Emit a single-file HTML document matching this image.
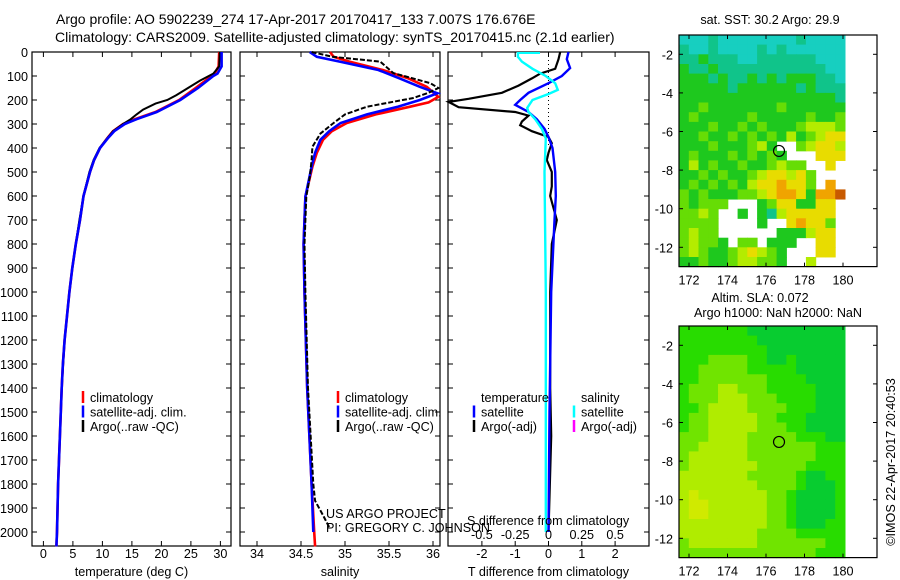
<!DOCTYPE html>
<html><head><meta charset="utf-8">
<style>
html,body{margin:0;padding:0;background:#fff;}
svg{display:block;font-family:"Liberation Sans",sans-serif;}
text{font-size:12.6px;fill:#000;}
</style></head>
<body>
<svg id="chart" width="900" height="580" viewBox="0 0 900 580" xmlns="http://www.w3.org/2000/svg">
<text x="56" y="24" style="font-size:14px">Argo profile: AO 5902239_274 17-Apr-2017 20170417_133 7.007S 176.676E</text>
<text x="55" y="42" style="font-size:14px">Climatology: CARS2009. Satellite-adjusted climatology: synTS_20170415.nc (2.1d earlier)</text>
<g id="plots"></g>
<text x="770" y="24" text-anchor="middle">sat. SST: 30.2 Argo: 29.9</text>
<text x="760" y="302" text-anchor="middle">Altim. SLA: 0.072</text>
<text x="778" y="317" text-anchor="middle">Argo h1000: NaN h2000: NaN</text>
<text transform="translate(895,462) rotate(-90)" text-anchor="middle">©IMOS 22-Apr-2017 20:40:53</text>
<text x="326" y="518">US ARGO PROJECT</text>
<text x="326" y="532">PI: GREGORY C. JOHNSON</text>
</svg>
<script>
// ---------- data ----------
const depthTicks=[0,100,200,300,400,500,600,700,800,900,1000,1100,1200,1300,1400,1500,1600,1700,1800,1900,2000];
const tempTicks=[0,5,10,15,20,25,30];
const salTicks=[34,34.5,35,35.5,36];
const salTickLabels=["34","34.5","35","35.5","36"];
const tdiffTicks=[-2,-1,0,1,2];
const sdiffTicks=[-0.5,-0.25,0,0.25,0.5];
const sdiffTickLabels=["-0.5","-0.25","0","0.25","0.5"];

const tClimDepth=[0,60,90,100,150,200,250,280,300,330,360,400,450,500,600,700,800,900,1000,1100,1200,1300,1400,1600,1800,2000,2060];
const tClim=[29.8,29.7,29.0,28.5,25.8,23.0,19.0,15.5,13.5,11.8,10.8,9.6,8.6,7.9,6.8,6.2,5.5,4.9,4.4,4.0,3.6,3.3,3.1,2.8,2.5,2.3,2.2];
const tSatDepth=[0,60,90,100,150,200,250,280,300,330,360,400,450,500,600,700,800,900,1000,1100,1200,1300,1400,1600,1800,2000,2060];
const tSat=[30.2,30.2,29.5,28.8,26.2,23.2,19.2,15.8,13.8,12.0,10.9,9.6,8.6,7.9,6.8,6.2,5.5,4.9,4.4,4.0,3.6,3.3,3.1,2.8,2.5,2.3,2.2];
const tArgoDepth=[0,60,90,120,150,180,200,215,240,260,280,300,330,360,400,450,500,600,700,800,900,1000,1200,1400,1600,1800,2000];
const tArgo=[29.9,29.8,28.8,26.5,24.5,22.5,21.0,19.0,16.9,15.8,14.8,13.5,11.8,10.8,9.5,8.5,7.8,6.8,6.1,5.5,4.9,4.4,3.6,3.1,2.8,2.5,2.3];

const sClimDepth=[0,20,40,75,110,145,187,210,228,260,296,330,366,420,478,603,800,1000,1400,1800,2000,2060];
const sClim=[34.83,34.87,35.05,35.43,35.72,35.93,36.06,35.95,35.74,35.35,35.02,34.85,34.75,34.68,34.63,34.55,34.53,34.54,34.57,34.62,34.65,34.66];
const sSatDepth=[0,20,40,75,110,145,172,200,228,260,296,330,366,420,478,603,800,1000,1400,1800,2000];
const sSat=[34.6,34.68,34.94,35.38,35.62,35.85,36.05,35.85,35.6,35.25,34.95,34.82,34.72,34.66,34.62,34.55,34.53,34.54,34.57,34.62,34.64];
const sArgoDepth=[0,20,40,88,130,150,170,192,228,260,296,340,395,450,520,603,800,1000,1400,1800,1870,1930,1980];
const sArgo=[34.62,34.86,35.4,35.55,35.97,36.06,35.95,35.77,35.25,35.0,34.87,34.72,34.63,34.62,34.6,34.56,34.54,34.55,34.58,34.64,34.66,34.75,34.82];

const dTSatDepth=[0,30,67,100,130,170,200,220,250,280,320,354,400,500,600,700,1000,1500,2000];
const dTSat=[0.6,0.55,0.65,0.4,0.0,-0.6,-0.85,-1.0,-0.6,-0.35,-0.12,0.0,0.12,0.2,0.22,0.18,0.08,0.03,0.0];
const dTArgoDepth=[0,30,70,90,110,140,170,195,208,230,250,265,290,305,330,354,380,420,450,500,560,600,700,800,1000,1400,1600,2000];
const dTArgo=[0.35,0.3,0.2,-0.25,-0.5,-0.9,-1.4,-2.4,-3.0,-2.7,-1.0,-0.6,-0.8,-0.85,-0.5,0.0,0.1,0.0,-0.05,0.1,0.1,0.05,0.25,0.1,0.05,0.05,0.08,0.0];
const dSSatDepth=[0,20,40,70,100,130,158,175,200,233,250,280,320,360,500,1000,2000];
const dSSat=[-0.23,-0.23,-0.2,-0.12,-0.02,0.05,0.07,0.0,-0.12,-0.16,-0.15,-0.1,-0.05,-0.02,-0.03,-0.02,-0.02];

// map grids: rows lat -1..-13 by 0.5, cols lon 171.48..180.1
const sstRows=[
"ccctcccccccctcccc","tcctcccctctcccccc","ttgtttccttttttccc","gttgtttttttttttcc",
"gggtgttgtgtgggttc","gggggtggggggtgttt","ggggggggggggggggt","gglggggggglgggggg",
"glggggglggggglggl","ggglgglglggglyyyl","gglgglglglgyglyYY","ggglggglyg..lyYYy",
"glggglglglg...YYY","gyglgglgglyll..Y.","gglglgglyYYyYl...","glglglgyYYoYYl.o.",
"lglgggllyYooYgoor","lglll...glYYggYY.","llyl..g.gtyYYYYY.","llll....g..YoYYl.",
"lyll......gggyYY.","lyllg.ll.ggg..YY.","lylgglyYylg...YY.","gglgglyyllg..y..."];
const slaRows=[
"gggggggGGGGGGGGGG","ggggggggGGGGGGGGG","gggggggggGGGGGGGG","gggllllggGGgGGGGG",
"gglllllgggggGGGGG","gglllllllggggGGGG","glllyylllgggggGGG","glllyyylllggggGGG",
"gglyyyyllllgggGGG","gllyyyyyllgggGGGG","gllyyyyylllggGGGG","lllyyyylllllgggGG",
"llyyyyylllllllggg","lyyyyyylllllllggg","lyyyyyyylllllgggg","yyyyyyylllllgGGgg",
"yyyyyyyyllllgGGGg","yYyyyyyyyllgGGGGg","yYYyyyyyyllgGGGGg","yYYyyyyyyllgGGGGg",
"yyyyyyyyyllgGGGgg","yyyyyyyyllllggggg","lyyyyyyylllllllgg","llllllllllllllggg"];
const mapLonTicks=[172,174,176,178,180];
const mapLatTicks=[-2,-4,-6,-8,-10,-12];
const argoLon=176.676, argoLat=-7.007;

// ---------- drawing ----------
const NS="http://www.w3.org/2000/svg";
const root=document.getElementById('plots');
function mk(tag,attrs,parent){const e=document.createElementNS(NS,tag);for(const k in attrs)e.setAttribute(k,attrs[k]);(parent||root).appendChild(e);return e;}
const Y0=52, PXD=0.24, YB=546;
const yD=d=>Y0+d*PXD;
const panels=[
 {name:'temperature',x0:32,x1:231,xs:v=>43.4+v*5.9},
 {name:'salinity',x0:240,x1:440,xs:v=>257+(v-34)*88},
 {name:'difference',x0:448,x1:649,xs:v=>548.5+v*33.3}
];
const sx3=v=>548.5+v*133.2;

function line(xs,ds,vs,color,name,w,dash){
  let p='';
  for(let i=0;i<ds.length;i++)p+=(i?'L':'M')+xs(vs[i]).toFixed(1)+','+yD(ds[i]).toFixed(1);
  const e=mk('path',{d:p,fill:'none',stroke:color,'stroke-width':w||2.2});
  if(dash)e.setAttribute('stroke-dasharray',dash);
  
  
  return e;
}
function frame(p,xticks,xlabels,xlabel,drawLeft){
  const g=mk('g',{});
  
  
  mk('rect',{x:p.x0,y:Y0,width:p.x1-p.x0,height:YB-Y0,fill:'none',stroke:'#000','stroke-width':1.2},g);
  xticks.forEach((t,i)=>{
    const x=p.xs(t);
    mk('line',{x1:x,x2:x,y1:Y0,y2:Y0+5,stroke:'#000'},g);
    mk('line',{x1:x,x2:x,y1:YB,y2:YB-5,stroke:'#000'},g);
    const tx=mk('text',{x:x,y:558,'text-anchor':'middle'},g);tx.textContent=xlabels[i];
    
    
  });
  depthTicks.forEach(d=>{
    mk('line',{x1:p.x0,x2:p.x0+5,y1:yD(d),y2:yD(d),stroke:'#000'},g);
    mk('line',{x1:p.x1,x2:p.x1-5,y1:yD(d),y2:yD(d),stroke:'#000'},g);
    if(drawLeft){const t=mk('text',{x:28,y:yD(d)+5,'text-anchor':'end'},g);t.textContent=d;
      
      }
  });
  const xl=mk('text',{x:(p.x0+p.x1)/2,y:576,'text-anchor':'middle'},g);xl.textContent=xlabel;
  
  
}
frame(panels[0],tempTicks,tempTicks.map(String),'temperature (deg C)',true);
frame(panels[1],salTicks,salTickLabels,'salinity',false);
frame(panels[2],tdiffTicks,tdiffTicks.map(String),'T difference from climatology',false);

// temperature
line(panels[0].xs,tClimDepth,tClim,'#f00','temp-climatology-line',2.6);
line(panels[0].xs,tArgoDepth,tArgo,'#000','temp-argo-line',2);
line(panels[0].xs,tSatDepth,tSat,'#00f','temp-satellite-line',2.6);
// salinity
line(panels[1].xs,sClimDepth,sClim,'#f00','sal-climatology-line',2.6);
line(panels[1].xs,sSatDepth,sSat,'#00f','sal-satellite-line',2.6);
line(panels[1].xs,sArgoDepth,sArgo,'#000','sal-argo-line',2,'5,2');
// differences
const zl=mk('line',{x1:548.5,x2:548.5,y1:Y0,y2:yD(400),stroke:'#000','stroke-dasharray':'1,3'});


line(panels[2].xs,dTArgoDepth,dTArgo,'#000','tdiff-argo-line',2.2);
line(panels[2].xs,dTSatDepth,dTSat,'#00f','tdiff-satellite-line',2.4);
line(sx3,dSSatDepth,dSSat,'#0ff','sdiff-satellite-line',2.4);
mk('line',{x1:518,x2:540,y1:Y0+1,y2:Y0+1,stroke:'#0ff','stroke-width':2});
const sdt=mk('text',{x:467,y:525});sdt.textContent='S difference from climatology';


sdiffTicks.forEach((v,i)=>{const t=mk('text',{x:sx3(v),y:539,'text-anchor':'middle'});t.textContent=sdiffTickLabels[i];
  
  });

// legends
function leg(x,y,color,label){
  const g=mk('g',{});
  
  
  mk('line',{x1:x,x2:x,y1:y-11,y2:y+1,stroke:color,'stroke-width':2.5},g);
  const t=mk('text',{x:x+7,y:y},g);t.textContent=label;
}
[[83,'#f00','climatology'],[83,'#00f','satellite-adj. clim.'],[83,'#000','Argo(..raw -QC)']].forEach((e,i)=>leg(e[0],402+i*14.5,e[1],e[2]));
[[338,'#f00','climatology'],[338,'#00f','satellite-adj. clim.'],[338,'#000','Argo(..raw -QC)']].forEach((e,i)=>leg(e[0],402+i*14.5,e[1],e[2]));
const tl=mk('text',{x:481,y:402});tl.textContent='temperature';


const sl=mk('text',{x:581,y:402});sl.textContent='salinity';


leg(474,416.5,'#00f','satellite');leg(474,431,'#000','Argo(-adj)');
leg(574,416.5,'#0ff','satellite');leg(574,431,'#f0f','Argo(-adj)');

// maps
const pal={c:'#17cfc0',t:'#10c48a',g:'#1ec81e',l:'#66dd05',y:'#b4ec00',Y:'#e8dc00',o:'#f0a400',r:'#c85a00',G:'#05c83a'};
const palSla={g:'#28dc00',G:'#08cc30',l:'#70e400',y:'#b0ec00',Y:'#d0ea00'};
function drawMap(rows,p,top,name){
  const g=mk('g',{});
  
  
  const lx=lon=>689+(lon-172)*19.25, ly=lat=>top+(-1-lat)*19.3;
  const cw=(180.1-171.48)/17;
  rows.forEach((r,ri)=>{for(let ci=0;ci<r.length;ci++){const c=r[ci];if(c==='.')continue;
    const x0=lx(171.48+ci*cw),x1=lx(171.48+(ci+1)*cw);
    const cell=mk('rect',{x:x0.toFixed(1),y:ly(-1-ri*0.5).toFixed(1),width:(x1-x0+0.5).toFixed(1),height:(9.65+0.5),fill:p[c]},g);
    
    }});
  const bottom=ly(-13);
  mk('rect',{x:679,y:top,width:198,height:bottom-top,fill:'none',stroke:'#000','stroke-width':1.2},g);
  mapLonTicks.forEach(v=>{const x=lx(v);
    mk('line',{x1:x,x2:x,y1:top,y2:top+4,stroke:'#000'},g);mk('line',{x1:x,x2:x,y1:bottom,y2:bottom-4,stroke:'#000'},g);
    const t=mk('text',{x:x,y:bottom+18,'text-anchor':'middle'},g);t.textContent=v;
    
    });
  mapLatTicks.forEach(v=>{const y=ly(v);
    mk('line',{x1:679,x2:683,y1:y,y2:y,stroke:'#000'},g);mk('line',{x1:877,x2:873,y1:y,y2:y,stroke:'#000'},g);
    const t=mk('text',{x:673,y:y+5,'text-anchor':'end'},g);t.textContent=v;
    
    });
  const m=mk('circle',{cx:lx(argoLon),cy:ly(argoLat),r:5.5,fill:'none',stroke:'#000','stroke-width':1.2},g);
  
  
}
drawMap(sstRows,pal,35,'sst-map');
drawMap(slaRows,palSla,326,'sla-map');
</script>
</body></html>
